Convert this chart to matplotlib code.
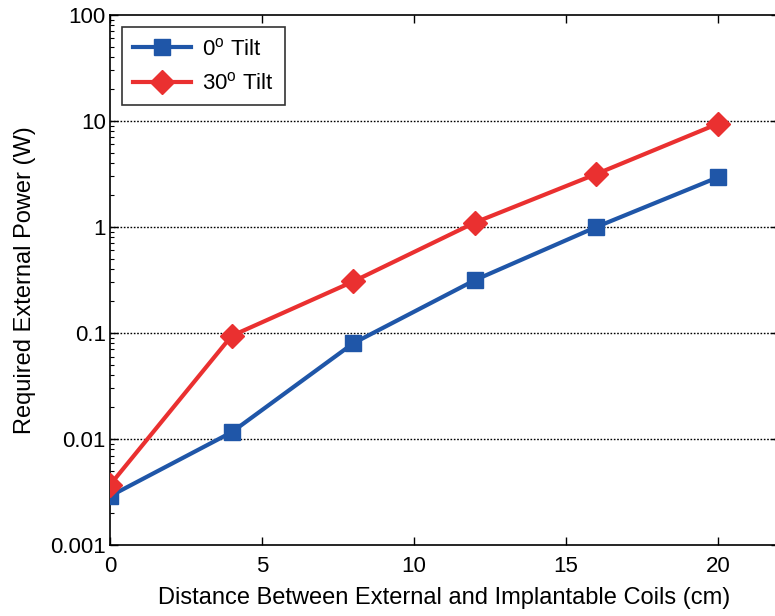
import matplotlib
matplotlib.use('Agg')
import matplotlib.pyplot as plt
import matplotlib.ticker as ticker

plt.rcParams['font.family'] = ['Liberation Sans', 'DejaVu Sans']
plt.rcParams['mathtext.fontset'] = 'custom'
plt.rcParams['mathtext.rm'] = 'Liberation Sans'

distance = [0, 4, 8, 12, 16, 20]
power_0 = [0.0029, 0.0116, 0.080, 0.315, 1.0, 2.94]
power_30 = [0.0037, 0.094, 0.306, 1.1, 3.16, 9.4]
ytick_vals = [0.001, 0.01, 0.1, 1, 10, 100]
ytick_labels = ['0.001', '0.01', '0.1', '1', '10', '100']

BLUE = '#1f56a8'
RED = '#ea3030'

fig = plt.figure(figsize=(7.75, 6.16), dpi=100)
ax = fig.add_axes([0.142, 0.115, 0.863, 0.861])

ax.plot(distance, power_0, '-s', color=BLUE, linewidth=3.0, markersize=12,
        label='0$^\\mathrm{o}$ Tilt', zorder=3)
ax.plot(distance, power_30, '-D', color=RED, linewidth=3.0, markersize=12,
        label='30$^\\mathrm{o}$ Tilt', zorder=4)

ax.set_yscale('log')
ax.set_ylim(0.001, 100)
ax.set_xlim(0, 22)
ax.set_xticks([0, 5, 10, 15, 20])
ax.set_yticks(ytick_vals)
ax.set_yticklabels(ytick_labels)
ax.yaxis.set_minor_locator(ticker.LogLocator(base=10, subs=range(2, 10), numticks=20))
ax.yaxis.set_minor_formatter(ticker.NullFormatter())

ax.tick_params(which='both', direction='in', top=True, right=True, labelsize=16)
ax.tick_params(which='major', length=6, width=1)
ax.tick_params(which='minor', length=3, width=0.8)
ax.tick_params(axis='x', pad=8)
ax.tick_params(axis='y', pad=3)

for v in ytick_vals[1:-1]:
    ax.axhline(v, color='black', linestyle=(0, (1.2, 1.2)), linewidth=1.0, zorder=1)

for s in ax.spines.values():
    s.set_linewidth(1.2)

ax.set_xlabel('Distance Between External and Implantable Coils (cm)', fontsize=17, labelpad=7)
ax.set_ylabel('Required External Power (W)', fontsize=17, labelpad=10)

leg = ax.legend(loc='upper left', fontsize=16, frameon=True, fancybox=False,
                edgecolor='black', handlelength=2.6, borderaxespad=0.55,
                labelspacing=0.55, borderpad=0.5, handletextpad=0.5)
leg.get_frame().set_linewidth(1.2)

fig.savefig('out.png', dpi=100)
